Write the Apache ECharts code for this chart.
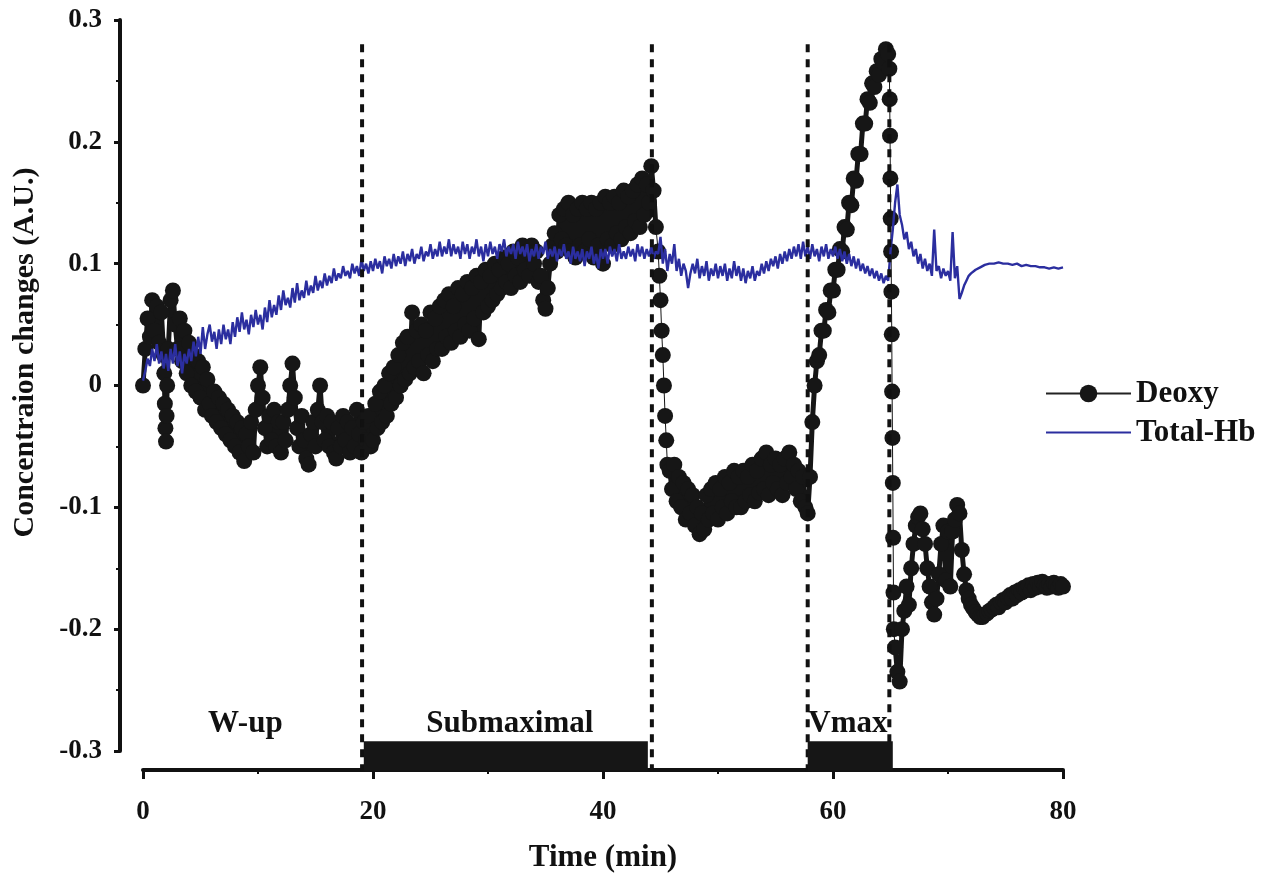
<!DOCTYPE html>
<html><head><meta charset="utf-8">
<script src="https://cdn.jsdelivr.net/npm/echarts@6/dist/echarts.min.js"></script>
<style>html,body{margin:0;padding:0;background:#fff}#c{width:1270px;height:878px}</style>
</head><body><div id="c"></div>
<script>
// ---- data ----
const xTicks = [0, 20, 40, 60, 80];
const yTicks = [-0.3, -0.2, -0.1, 0, 0.1, 0.2, 0.3];
const phaseNames = ['W-up', 'Submaximal', 'Vmax'];
const phaseLabelTimes = [8.9, 31.9, 61.3];
const barStarts = [19.2, 57.8];
const barEnds = [43.9, 65.2];
const boundaryTimes = [19.05, 44.25, 57.8, 64.9];

// Deoxy, sampled in pieces: each piece = [start time, sampling step (min)], values
const deoxyStart1 = [0, 0.2];
const deoxyValues1 = [0.0, 0.03, 0.055, 0.04, 0.07, 0.045, 0.065, 0.035, 0.06, 0.025];
const deoxyStart2 = [1.85, 0.05];
const deoxyValues2 = [0.01, -0.015, -0.035, -0.046, -0.025, 0.0];
const deoxyStart3 = [2.2, 0.2];
const deoxyValues3 = [
0.03,0.07,0.078,0.05,0.03,0.055,0.02,0.045,0.01,0.035,
0.0,0.025,-0.005,0.02,-0.01,0.015,-0.02,0.005,-0.015,-0.025,
-0.005,-0.03,-0.01,-0.035,-0.015,-0.04,-0.02,-0.045,-0.025,-0.05,
-0.03,-0.055,-0.035,-0.062,-0.04,-0.05,-0.03,-0.055,-0.02,0.0,
0.015,-0.01,-0.035,-0.05,-0.025,-0.045,-0.02,-0.05,-0.03,-0.055,
-0.03,-0.045,-0.02,0.0,0.018,-0.01,-0.035,-0.05,-0.025,-0.045,
-0.06,-0.065,-0.04,-0.03,-0.05,-0.02,0.0,-0.03,-0.045,-0.025,
-0.05,-0.03,-0.055,-0.06,-0.035,-0.05,-0.025,-0.045,-0.03,-0.055,
-0.035,-0.05,-0.02,-0.04,-0.055,-0.03,-0.045,-0.025,-0.05
];
const deoxyStart4 = [20.0, 0.2];
const deoxyValues4 = [
-0.045,-0.015,-0.035,-0.005,-0.03,0.0,-0.025,0.01,-0.015,0.015,
-0.01,0.025,0.0,0.035,0.005,0.04,0.01,0.06,0.015,0.045,
0.02,0.05,0.01,0.045,0.025,0.06,0.02,0.055,0.03,0.065,
0.03,0.07,0.04,0.075,0.035,0.065,0.045,0.08,0.04,0.075,
0.05,0.085,0.045,0.08,0.055,0.09,0.038,0.085,0.06,0.095,
0.065,0.09,0.07,0.1,0.075,0.095,0.08,0.105,0.085,0.1,
0.08,0.11,0.09,0.105,0.085,0.115,0.095,0.11,0.09,0.115,
0.1,0.11,0.085,0.09,0.07,0.063,0.08,0.1,0.115,0.125,
0.11,0.14,0.12,0.145,0.115,0.15,0.11,0.14,0.105,0.145,
0.115,0.15,0.11,0.145,0.12,0.15,0.105,0.145,0.115,0.15,
0.1,0.155,0.12,0.15,0.115,0.155,0.125,0.15,0.12,0.16,
0.13,0.155,0.125,0.16,0.135,0.165,0.13,0.17,0.14,0.165,
0.15,0.18,0.16,0.13
];
const deoxyStart5 = [44.8, 0.1];
const deoxyValues5 = [0.11, 0.09, 0.07, 0.045, 0.025, 0.0, -0.025, -0.045, -0.065];
const deoxyStart6 = [45.8, 0.2];
const deoxyValues6 = [
-0.07,-0.085,-0.065,-0.095,-0.075,-0.1,-0.08,-0.11,-0.085,-0.105,
-0.09,-0.115,-0.1,-0.122,-0.105,-0.118,-0.09,-0.11,-0.085,-0.105,
-0.08,-0.11,-0.085,-0.1,-0.075,-0.105,-0.08,-0.095,-0.07,-0.1,
-0.075,-0.1,-0.07,-0.095,-0.075,-0.09,-0.065,-0.095,-0.07,-0.088,
-0.06,-0.085,-0.055,-0.09,-0.065,-0.08,-0.06,-0.085,-0.065,-0.09,
-0.06,-0.08,-0.055,-0.075,-0.065,-0.085,-0.07,-0.095,-0.075,-0.1,
-0.105
];
const deoxyStart7 = [58.0, 0.2];
const deoxyValues7 = [
-0.075,-0.03,0.0,0.02,0.025,0.045,0.045,0.062,0.06,0.078,
0.078,0.095,0.095,0.112,0.11,0.13,0.128,0.15,0.148,0.17,
0.168,0.19,0.19,0.215,0.215,0.235,0.232,0.248,0.245,0.258,
0.255,0.268,0.265,0.276,0.272
];
const deoxyStart8 = [64.9, 0.03];
const deoxyValues8 = [0.26, 0.235, 0.205, 0.17, 0.137, 0.11, 0.077, 0.042, -0.005, -0.043, -0.08, -0.125, -0.17, -0.2];
const deoxyStart9 = [65.4, 0.2];
const deoxyValues9 = [
-0.215,-0.235,-0.243,-0.2,-0.185,-0.165,-0.18,-0.15,-0.13,-0.115,
-0.108,-0.105,-0.118,-0.13,-0.15,-0.165,-0.178,-0.188,-0.175,-0.155,
-0.13,-0.115,-0.16,-0.12,-0.165,-0.12,-0.11,-0.098,-0.105,-0.135,
-0.155,-0.168,-0.175,-0.18,-0.183,-0.186,-0.188,-0.19,-0.19,-0.188,
-0.187,-0.185,-0.184,-0.182,-0.18,-0.182,-0.178,-0.176,-0.178,-0.174,
-0.172,-0.175,-0.17,-0.172,-0.168,-0.17,-0.166,-0.168,-0.164,-0.168,
-0.163,-0.166,-0.162,-0.165,-0.161,-0.164,-0.166,-0.163,-0.165,-0.162,
-0.164,-0.166,-0.163,-0.165
];

// Total-Hb, two pieces
const totalHbStart1 = [0, 0.2];
const totalHbValues1 = [
0.004,0.012,0.022,0.016,0.03,0.02,0.034,0.018,0.028,0.014,
0.026,0.012,0.03,0.018,0.034,0.016,0.028,0.01,0.026,0.018,
0.03,0.02,0.036,0.024,0.04,0.026,0.048,0.03,0.042,0.05,
0.036,0.044,0.03,0.046,0.034,0.05,0.038,0.046,0.034,0.052,
0.04,0.056,0.044,0.06,0.046,0.054,0.042,0.058,0.048,0.062,
0.05,0.058,0.046,0.064,0.052,0.07,0.056,0.066,0.058,0.074,
0.062,0.078,0.066,0.072,0.064,0.08,0.068,0.084,0.07,0.078,
0.072,0.086,0.074,0.082,0.076,0.09,0.078,0.086,0.08,0.092,
0.082,0.09,0.084,0.096,0.086,0.092,0.088,0.098,0.09,0.094,
0.088,0.1,0.092,0.098,0.09,0.104,0.094,0.1,0.092,0.102,
0.094,0.104,0.096,0.102,0.092,0.106,0.098,0.104,0.096,0.108,
0.098,0.106,0.1,0.11,0.098,0.108,0.102,0.112,0.1,0.108,
0.104,0.114,0.102,0.11,0.106,0.116,0.104,0.112,0.106,0.118,
0.106,0.114,0.108,0.12,0.106,0.116,0.108,0.114,0.104,0.118,
0.108,0.116,0.104,0.114,0.108,0.12,0.106,0.114,0.102,0.116,
0.106,0.118,0.108,0.114,0.104,0.116,0.11,0.12,0.106,0.114,
0.108,0.116,0.104,0.118,0.108,0.114,0.106,0.116,0.102,0.112,
0.106,0.116,0.104,0.114,0.108,0.118,0.104,0.112,0.106,0.114,
0.102,0.112,0.106,0.116,0.104,0.11,0.1,0.114,0.104,0.11,
0.102,0.112,0.098,0.11,0.104,0.114,0.1,0.108,0.096,0.112,
0.104,0.112,0.1,0.114,0.106,0.112,0.102,0.116,0.104,0.11,
0.104,0.114,0.106,0.112,0.102,0.116,0.106,0.114,0.104,0.112,
0.106,0.114,0.104,0.11,0.108,0.122,0.1,0.112,0.094,0.108,
0.1,0.116,0.094,0.104,0.09,0.1,0.094,0.08,0.092,0.1,
0.092,0.104,0.088,0.098,0.09,0.102,0.086,0.096,0.09,0.1,
0.088,0.098,0.09,0.1,0.086,0.096,0.088,0.102,0.09,0.098,
0.086,0.096,0.084,0.094,0.088,0.098,0.086,0.094,0.09,0.1,
0.092,0.102,0.094,0.104,0.098,0.106,0.096,0.108,0.1,0.11,
0.102,0.112,0.104,0.114,0.106,0.116,0.104,0.118,0.106,0.114,
0.104,0.116,0.106,0.112,0.102,0.114,0.106,0.116,0.104,0.112,
0.106,0.114,0.104,0.112,0.102,0.11,0.1,0.108,0.098,0.106,
0.096,0.104,0.094,0.1,0.092,0.098,0.09,0.096,0.088,0.094,
0.086,0.092,0.084,0.09,0.086,0.11,0.128,0.15,0.165,0.14,
0.132,0.12,0.126,0.112,0.118,0.106,0.112,0.1,0.108,0.096,
0.104,0.094,0.1,0.09,0.128,0.094,0.098,0.088,0.096,0.09,
0.094,0.086,0.126,0.088,0.098,0.071,0.076,0.082,0.086,0.09
];
const totalHbStart2 = [72, 0.4];
const totalHbValues2 = [
0.092,0.095,0.097,0.099,0.1,0.1,0.101,0.1,0.1,0.099,
0.1,0.098,0.099,0.098,0.098,0.097,0.097,0.096,0.097,0.096,
0.097
];

function piece(startStep, values) {
  return values.map((v, i) => [+(startStep[0] + i * startStep[1]).toFixed(3), v]);
}
const p1 = piece(deoxyStart1, deoxyValues1), p2 = piece(deoxyStart2, deoxyValues2),
      p3 = piece(deoxyStart3, deoxyValues3), p4 = piece(deoxyStart4, deoxyValues4),
      p5 = piece(deoxyStart5, deoxyValues5), p6 = piece(deoxyStart6, deoxyValues6),
      p7 = piece(deoxyStart7, deoxyValues7), p8 = piece(deoxyStart8, deoxyValues8),
      p9 = piece(deoxyStart9, deoxyValues9);
const deoxy = [].concat(p1, p2, p3, p4, p5, p6, p7, p8, p9);
// dense (noisy) stretches get a heavy trace; the fast transitions keep only the thin one
const deoxyDense = [].concat(p1, p2, p3, p4, [[44.7, null]], p6, p7, [[65.0, null]], p9);
const totalHb = [].concat(piece(totalHbStart1, totalHbValues1), piece(totalHbStart2, totalHbValues2));

// ---- chart ----
const FONT = 'Liberation Serif';
const chart = echarts.init(document.getElementById('c'), null, {renderer: 'canvas'});
const option = {
  animation: false,
  backgroundColor: '#fff',
  grid: {left: 143, right: 207, top: 20, bottom: 126},
  legend: {
    orient: 'vertical', left: 1040, top: 373,
    itemWidth: 85, itemHeight: 22, itemGap: 8,
    textStyle: {fontFamily: FONT, fontWeight: 'bold', fontSize: 31, color: '#111'},
    data: [
      {name: 'Deoxy', lineStyle: {color: '#222', width: 2}},
      {name: 'Total-Hb', itemStyle: {opacity: 0}, lineStyle: {color: '#2b2e9f', width: 2}}
    ]
  },
  xAxis: {
    type: 'value', min: xTicks[0], max: xTicks[xTicks.length - 1], interval: 20,
    offset: 19,
    name: 'Time (min)', nameLocation: 'middle', nameGap: 72,
    nameTextStyle: {fontFamily: FONT, fontWeight: 'bold', fontSize: 31, color: '#111'},
    axisLine: {onZero: false, lineStyle: {color: '#111', width: 4}},
    axisTick: {length: 9, lineStyle: {color: '#111', width: 3}},
    minorTick: {show: true, splitNumber: 2, length: 4, lineStyle: {color: '#111', width: 2}},
    splitLine: {show: false},
    axisLabel: {margin: 29, fontFamily: FONT, fontWeight: 'bold', fontSize: 27, color: '#111'}
  },
  yAxis: {
    type: 'value', min: yTicks[0], max: yTicks[yTicks.length - 1], interval: 0.1,
    offset: 23,
    name: 'Concentraion changes (A.U.)', nameLocation: 'middle', nameGap: 80,
    nameTextStyle: {fontFamily: FONT, fontWeight: 'bold', fontSize: 30, color: '#111', padding: [0, 0, 0, 66]},
    axisLine: {show: true, onZero: false, lineStyle: {color: '#111', width: 4}},
    axisTick: {length: 6, lineStyle: {color: '#111', width: 3}},
    minorTick: {show: true, splitNumber: 2, length: 4, lineStyle: {color: '#111', width: 2}},
    splitLine: {show: false},
    axisLabel: {margin: 18, fontFamily: FONT, fontWeight: 'bold', fontSize: 27, color: '#111',
      formatter: v => Math.abs(v) < 1e-9 ? '0' : v.toFixed(1)}
  },
  series: [
    {
      name: 'Deoxy', type: 'line', data: deoxy,
      symbol: 'circle', symbolSize: 16, showSymbol: true, showAllSymbol: true,
      itemStyle: {color: '#161616'},
      lineStyle: {color: '#161616', width: 1},
      z: 2
    },
    {
      name: 'Deoxy', type: 'line', data: deoxyDense,
      symbol: 'none', connectNulls: false,
      lineStyle: {color: '#161616', width: 5},
      itemStyle: {color: '#161616'},
      z: 1
    },
    {
      name: 'Total-Hb', type: 'line', data: totalHb,
      symbol: 'none',
      lineStyle: {color: '#2b2e9f', width: 2.4},
      itemStyle: {color: '#2b2e9f'},
      z: 3
    },
    {
      name: 'boundaries', type: 'custom', clip: false, z: 4,
      data: boundaryTimes.map(t => [t, 0]),
      encode: {x: 0, y: 1},
      renderItem: (params, api) => {
        const t = api.value(0);
        const a = api.coord([t, 0.28]);
        const b = api.coord([t, -0.317]);
        return {type: 'line', shape: {x1: a[0], y1: a[1], x2: b[0], y2: b[1]},
          style: {stroke: '#111', lineWidth: 4, lineDash: [8, 7]}};
      }
    },
    {
      name: 'phaseBars', type: 'custom', clip: false, z: 5,
      data: barStarts.map((s, i) => [s, barEnds[i]]),
      encode: {x: [0, 1]},
      renderItem: (params, api) => {
        const a = api.coord([api.value(0), -0.292]);
        const b = api.coord([api.value(1), -0.316]);
        return {type: 'rect', shape: {x: a[0], y: a[1], width: b[0] - a[0], height: b[1] - a[1]},
          style: {fill: '#161616'}};
      }
    },
    {
      name: 'phaseLabels', type: 'custom', clip: false, z: 6,
      data: phaseNames.map((n, i) => [phaseLabelTimes[i], -0.278]),
      encode: {x: 0, y: 1},
      renderItem: (params, api) => {
        const p = api.coord([api.value(0), api.value(1)]);
        return {type: 'text', x: p[0], y: p[1],
          style: {text: phaseNames[params.dataIndex], fill: '#111',
            font: 'bold 31px ' + FONT, textAlign: 'center', textVerticalAlign: 'middle'}};
      }
    }
  ]
};
chart.setOption(option);
</script>
</body></html>
